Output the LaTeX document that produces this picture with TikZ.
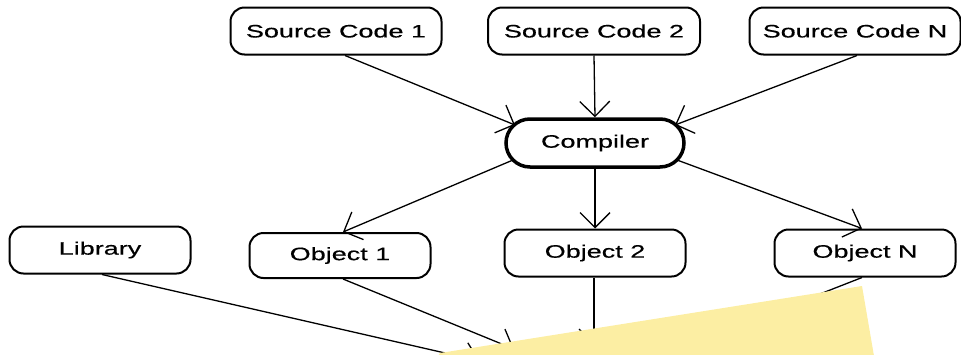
\documentclass[tikz,border=0pt]{standalone}
\usepackage{fontspec}
\setmainfont{Liberation Sans}[FakeStretch=1.5,FakeBold=0.5]
\usetikzlibrary{arrows.meta,calc}

\definecolor{notecol}{RGB}{252,238,163}

\begin{document}
\begin{tikzpicture}[x=1pt,y=-1pt,
  box/.style={draw,line width=2pt,rounded corners=14pt,minimum width=181pt,
    minimum height=47pt,inner sep=0pt,font=\fontsize{18}{20}\selectfont},
  compbox/.style={box,line width=3.5pt,rounded corners=24pt,minimum width=178pt,
    minimum height=48pt},
  arr/.style={line width=1.3pt,-{Straight Barb[length=15pt,width=30pt]}}]
\useasboundingbox (0,0) rectangle (961,354);

% sources
\node[box,minimum width=211pt] (src1) at (336,31) {Source Code 1};
\node[box,minimum width=212pt] (src2) at (594,31) {Source Code 2};
\node[box,minimum width=211pt] (srcN) at (855,31) {Source Code N};

% compiler
\node[compbox] (comp) at (595,143) {Compiler};

% outputs
\node[box] (lib)  at (100,250)   {Library};
\node[box,minimum height=45pt] (obj1) at (340,255.5) {Object 1};
\node[box] (obj2) at (595,253)   {Object 2};
\node[box] (objN) at (865,253)   {Object N};

% sources feed the compiler
\draw[arr] ($(src1.south)+(9,0)$) -- ($(comp.center)+(-80,-18)$);
\draw[arr] (src2.south) -- (comp.north);
\draw[arr] ($(srcN.south)+(2,0)$) -- ($(comp.center)+(80,-18)$);

% compiler produces objects
\draw[arr] ($(comp.center)+(-82,17)$) -- ($(obj1.north)+(3,0)$);
\draw[arr] (comp.south) -- (obj2.north);
\draw[arr] ($(comp.center)+(82,17)$) -- ($(objN.north)+(-3,0)$);

% everything goes on to the linking step below
\coordinate (l1) at (480,361);
\coordinate (l2) at (514,349);
\coordinate (l3) at (594,345);
\coordinate (l4) at (700,341);
\draw[arr] ($(lib.south)+(2,0)$) -- (l1);
\draw[arr] ($(obj1.south)+(3,0)$) -- (l2);
\draw[arr] ($(obj2.south)+(-1,0)$) -- (l3);
\draw[arr] ($(objN.south)+(-3,0)$) -- (l4);

% sticky note laid over the lower part
\fill[notecol] (438,356) -- (440,353) -- (862,286) -- (874,356) -- cycle;
\end{tikzpicture}
\end{document}
